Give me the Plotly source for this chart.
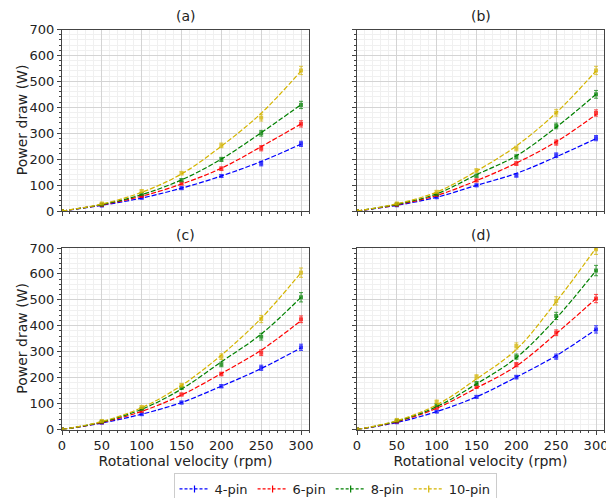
import plotly.graph_objects as go

rpm = [0, 50, 100, 150, 200, 250, 300]
series_names = ["4-pin", "6-pin", "8-pin", "10-pin"]
colors = ["#0000ff", "#ff0000", "#008000", "#d4b400"]
panel_titles = ["(a)", "(b)", "(c)", "(d)"]

# measured points per panel: [4-pin, 6-pin, 8-pin, 10-pin]
pts_a = [[0, 21, 51, 88, 135, 183, 259],
         [0, 23, 58, 106, 163, 242, 336],
         [0, 25, 66, 119, 199, 300, 409],
         [0, 29, 77, 146, 253, 360, 542]]
pts_b = [[0, 22, 53, 99, 137, 215, 281],
         [0, 24, 62, 118, 183, 264, 378],
         [0, 26, 65, 136, 209, 328, 450],
         [0, 29, 74, 156, 241, 379, 542]]
pts_c = [[0, 26, 59, 104, 167, 238, 317],
         [0, 28, 72, 135, 214, 296, 425],
         [0, 30, 80, 161, 251, 358, 510],
         [0, 33, 87, 171, 281, 426, 605]]
pts_d = [[0, 28, 69, 126, 202, 281, 386],
         [0, 31, 84, 165, 250, 373, 505],
         [0, 34, 94, 178, 281, 438, 613],
         [0, 37, 107, 203, 322, 496, 695]]

# dashed fitted curves
fit_a = [[0, 22, 50, 88, 135, 191, 258],
         [0, 24, 57, 104, 165, 248, 336],
         [0, 25, 63, 120, 200, 302, 410],
         [0, 27, 72, 143, 250, 377, 540]]
fit_b = [[0, 22, 53, 99, 145, 209, 279],
         [0, 24, 60, 117, 185, 267, 372],
         [0, 26, 66, 140, 213, 323, 450],
         [0, 28, 73, 154, 251, 379, 540]]
fit_c = [[0, 25, 59, 104, 167, 235, 315],
         [0, 27, 70, 133, 216, 306, 420],
         [0, 29, 78, 156, 261, 368, 510],
         [0, 31, 84, 170, 287, 429, 605]]
fit_d = [[0, 27, 69, 126, 202, 285, 386],
         [0, 30, 82, 160, 245, 370, 505],
         [0, 32, 88, 176, 277, 429, 613],
         [0, 34, 95, 195, 309, 493, 700]]

# error bar half-heights
err_a = [[0, 3, 4, 5, 6, 9, 10], [0, 3, 4, 5, 7, 10, 12],
         [0, 3, 4, 6, 8, 11, 14], [0, 4, 5, 7, 9, 13, 16]]
err_b = [[0, 3, 4, 5, 6, 9, 10], [0, 3, 4, 5, 7, 10, 12],
         [0, 3, 4, 6, 8, 11, 15], [0, 4, 5, 7, 9, 13, 16]]
err_c = [[0, 3, 4, 5, 6, 10, 12], [0, 3, 4, 5, 7, 11, 13],
         [0, 3, 4, 6, 9, 13, 18], [0, 4, 5, 7, 11, 14, 18]]
err_d = [[0, 3, 4, 5, 7, 10, 14], [0, 3, 4, 6, 8, 11, 16],
         [0, 3, 5, 7, 10, 14, 20], [0, 4, 6, 8, 12, 16, 20]]

pts_all = [pts_a, pts_b, pts_c, pts_d]
fit_all = [fit_a, fit_b, fit_c, fit_d]
err_all = [err_a, err_b, err_c, err_d]

# page body has an 8px margin; figure is drawn inside it
OFF = 8
W, H = 614 - OFF, 498 - OFF


def px(v):
    return (v - OFF) / W


def py(v):
    return 1 - (v - OFF) / H


xdom = [[px(62), px(309)], [px(357), px(604)]]
ydom = [[py(211), py(29.5)], [py(429.5), py(248)]]

fig = go.Figure()
font = "DejaVu Sans, Arial, sans-serif"

for p in range(4):
    ax = "" if p == 0 else str(p + 1)
    for s in range(4):
        fig.add_trace(go.Scatter(
            x=rpm, y=fit_all[p][s], mode="lines",
            line=dict(color=colors[s], width=1.2, dash="5px,2px", shape="spline"),
            xaxis="x" + ax, yaxis="y" + ax, showlegend=False, hoverinfo="skip"))
        fig.add_trace(go.Scatter(
            x=rpm, y=pts_all[p][s], mode="markers",
            marker=dict(color=colors[s], size=4, symbol="square"),
            opacity=0.75,
            error_y=dict(type="data", array=err_all[p][s], visible=True,
                         color=colors[s], thickness=1, width=2),
            xaxis="x" + ax, yaxis="y" + ax, showlegend=False))

for s in range(4):
    fig.add_trace(go.Scatter(
        x=[None], y=[None], mode="lines+markers", name=series_names[s],
        line=dict(color=colors[s], width=1.2, dash="3px,2px"),
        marker=dict(color=colors[s], size=5, symbol="line-ns-open", line=dict(width=1.2, color=colors[s])),
        xaxis="x", yaxis="y"))

layout = dict(
    width=W, height=H, margin=dict(l=0, r=0, t=0, b=0, autoexpand=False),
    paper_bgcolor="white", plot_bgcolor="white",
    font=dict(family=font, size=13, color="#222"),
    showlegend=True,
    legend=dict(orientation="h", x=px(335), xanchor="center", y=py(473), yanchor="top",
                bordercolor="#cccccc", borderwidth=1, font=dict(size=13),
                itemwidth=30, tracegroupgap=0),
)

annotations = []
for p in range(4):
    col, row = p % 2, p // 2
    ax = "" if p == 0 else str(p + 1)
    xd = xdom[col]
    yd = ydom[row]
    xa = dict(domain=xd, anchor="y" + ax, range=[0, 310], automargin=False,
              tickmode="array", tickvals=[0, 50, 100, 150, 200, 250, 300],
              showticklabels=(row == 1), ticks="outside", ticklen=4, tickcolor="#444",
              showline=True, linecolor="#444", linewidth=1, mirror=True,
              showgrid=True, gridcolor="#d4d4d4", gridwidth=1, zeroline=False,
              tickfont=dict(size=13),
              minor=dict(dtick=10, ticks="outside", ticklen=2, tickcolor="#444",
                         showgrid=True, gridcolor="#f0f0f0", gridwidth=1))
    ya = dict(domain=yd, anchor="x" + ax, range=[0, 700], automargin=False,
              tickmode="array", tickvals=[0, 100, 200, 300, 400, 500, 600, 700],
              showticklabels=(col == 0), ticks="outside", ticklen=4, tickcolor="#444",
              showline=True, linecolor="#444", linewidth=1, mirror=True,
              showgrid=True, gridcolor="#d4d4d4", gridwidth=1, zeroline=False,
              tickfont=dict(size=13),
              minor=dict(dtick=20, ticks="outside", ticklen=2, tickcolor="#444",
                         showgrid=True, gridcolor="#f0f0f0", gridwidth=1))
    if row == 1:
        xa["title"] = dict(text="Rotational velocity (rpm)", font=dict(size=14), standoff=4)
    if col == 0:
        annotations.append(dict(text="Power draw (W)", x=px(22), y=(yd[0] + yd[1]) / 2,
                                xref="paper", yref="paper", xanchor="center", yanchor="middle",
                                textangle=-90, showarrow=False, font=dict(size=14)))
    layout["xaxis" + ax] = xa
    layout["yaxis" + ax] = ya
    annotations.append(dict(text=panel_titles[p], x=(xd[0] + xd[1]) / 2, y=yd[1],
                            xref="paper", yref="paper", xanchor="center", yanchor="bottom",
                            yshift=3, showarrow=False, font=dict(size=14)))

layout["annotations"] = annotations
fig.update_layout(**layout)
fig.write_html("out.html")
